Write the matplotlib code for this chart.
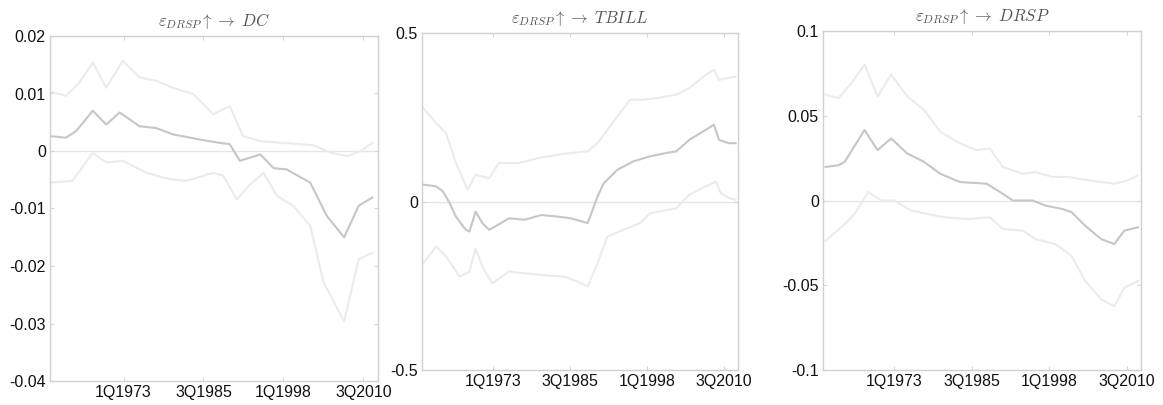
import matplotlib
matplotlib.use("Agg")
import matplotlib.pyplot as plt

plt.rcParams['mathtext.fontset'] = 'cm'

# ---- Panel 1: DC ----
dc_mid_t = [1961.4, 1964.0, 1965.6, 1968.2, 1970.3, 1972.4, 1975.5, 1978.1, 1980.7, 1984.9, 1988.1, 1989.6,
            1991.2, 1994.4, 1996.5, 1998.5, 2002.2, 2004.8, 2007.5, 2009.8, 2011.9]
dc_mid = [0.0026, 0.0023, 0.0035, 0.0070, 0.0046, 0.0067, 0.0043, 0.0040, 0.0029, 0.0020, 0.0014, 0.0012,
          -0.0017, -0.0006, -0.0030, -0.0032, -0.0055, -0.0113, -0.0150, -0.0095, -0.0081]
dc_up_t = [1961.4, 1964.0, 1966.1, 1968.2, 1970.3, 1972.9, 1975.5, 1978.1, 1980.7, 1983.9, 1987.0, 1989.6,
           1991.7, 1994.4, 1998.0, 2002.7, 2005.4, 2008.0, 2010.1, 2011.9]
dc_up = [0.0104, 0.0096, 0.0119, 0.0154, 0.0110, 0.0157, 0.0128, 0.0122, 0.0110, 0.0099, 0.0064, 0.0078,
         0.0026, 0.0017, 0.0014, 0.0010, -0.0003, -0.0009, 0.0000, 0.0014]
dc_lo_t = [1961.4, 1965.0, 1968.2, 1970.3, 1972.9, 1976.6, 1980.2, 1982.8, 1987.0, 1988.6, 1990.7, 1992.8,
           1994.9, 1997.0, 1999.6, 2002.2, 2004.3, 2007.5, 2009.8, 2011.9]
dc_lo = [-0.0055, -0.0052, -0.0003, -0.0020, -0.0017, -0.0038, -0.0049, -0.0052, -0.0038, -0.0043, -0.0084,
         -0.0058, -0.0038, -0.0078, -0.0096, -0.0130, -0.0229, -0.0296, -0.0188, -0.0177]

# ---- Panel 2: TBILL ----
tb_mid_t = [1961.7, 1963.8, 1964.9, 1966.0, 1967.0, 1968.6, 1969.2, 1970.2, 1971.3, 1972.4, 1973.4, 1975.6,
            1978.2, 1980.9, 1983.6, 1985.7, 1988.4, 1990.0, 1991.0, 1993.2, 1995.8, 1998.5, 2001.2, 2002.8,
            2004.9, 2007.6, 2008.9, 2009.7, 2011.3, 2012.4]
tb_mid = [0.050, 0.045, 0.030, -0.005, -0.045, -0.084, -0.089, -0.030, -0.064, -0.084, -0.074, -0.050,
          -0.054, -0.040, -0.045, -0.050, -0.064, 0.015, 0.054, 0.094, 0.119, 0.134, 0.144, 0.149,
          0.183, 0.213, 0.228, 0.183, 0.173, 0.173]
tb_up_t = [1961.7, 1963.8, 1965.4, 1967.0, 1968.9, 1970.2, 1972.4, 1974.0, 1977.2, 1980.4, 1983.6, 1985.7,
           1988.4, 1990.0, 1993.2, 1995.3, 1997.4, 1999.6, 2002.8, 2004.9, 2007.6, 2008.9, 2009.7, 2012.4]
tb_up = [0.277, 0.233, 0.203, 0.114, 0.035, 0.079, 0.069, 0.114, 0.114, 0.129, 0.139, 0.144,
         0.149, 0.173, 0.252, 0.302, 0.302, 0.307, 0.317, 0.337, 0.376, 0.391, 0.361, 0.371]
tb_lo_t = [1961.7, 1963.8, 1965.4, 1967.6, 1969.2, 1970.2, 1971.3, 1972.9, 1975.6, 1978.2, 1980.9, 1984.6,
           1986.8, 1988.4, 1990.0, 1991.6, 1994.2, 1996.9, 1998.5, 2002.8, 2004.9, 2007.6, 2009.2, 2010.0,
           2011.3, 2012.4]
tb_lo = [-0.183, -0.134, -0.163, -0.223, -0.208, -0.139, -0.193, -0.243, -0.208, -0.213, -0.218, -0.223,
         -0.238, -0.252, -0.183, -0.104, -0.084, -0.064, -0.035, -0.020, 0.020, 0.045, 0.059, 0.025,
         0.010, 0.005]

# ---- Panel 3: DRSP ----
dr_mid_t = [1961.9, 1964.0, 1965.0, 1968.2, 1970.3, 1972.5, 1975.1, 1977.8, 1980.4, 1983.6, 1987.9, 1990.5,
            1992.1, 1995.3, 1997.4, 2000.1, 2001.6, 2003.8, 2006.4, 2008.5, 2010.1, 2012.3]
dr_mid = [0.0198, 0.0208, 0.0228, 0.0416, 0.0297, 0.0366, 0.0277, 0.0228, 0.0158, 0.0109, 0.0099, 0.0040,
          0.0000, 0.0000, -0.0030, -0.0050, -0.0069, -0.0149, -0.0228, -0.0257, -0.0178, -0.0158]
dr_up_t = [1961.9, 1964.0, 1966.1, 1968.2, 1970.3, 1972.5, 1975.1, 1977.8, 1980.4, 1983.6, 1986.3, 1988.4,
           1990.5, 1993.7, 1995.8, 1998.5, 2001.1, 2004.3, 2008.5, 2010.7, 2012.3]
dr_up = [0.0624, 0.0604, 0.0693, 0.0802, 0.0614, 0.0743, 0.0614, 0.0535, 0.0406, 0.0337, 0.0297, 0.0307,
         0.0198, 0.0158, 0.0168, 0.0139, 0.0139, 0.0119, 0.0099, 0.0119, 0.0149]
dr_lo_t = [1961.9, 1965.0, 1966.6, 1968.8, 1970.9, 1973.0, 1975.7, 1978.3, 1981.0, 1984.7, 1988.4, 1990.5,
           1993.7, 1995.8, 1999.0, 2001.6, 2003.8, 2006.4, 2008.5, 2010.1, 2012.3]
dr_lo = [-0.0238, -0.0139, -0.0079, 0.0050, 0.0000, 0.0000, -0.0059, -0.0079, -0.0099, -0.0109, -0.0099,
         -0.0168, -0.0178, -0.0228, -0.0257, -0.0327, -0.0475, -0.0584, -0.0624, -0.0515, -0.0475]

tick_pos = [1973.0, 1985.5, 1998.0, 2010.5]
tick_labels = ['1Q1973', '3Q1985', '1Q1998', '3Q2010']

titles = [r'$\varepsilon_{DRSP}\uparrow\rightarrow\ DC$',
          r'$\varepsilon_{DRSP}\uparrow\rightarrow\ TBILL$',
          r'$\varepsilon_{DRSP}\uparrow\rightarrow\ DRSP$']
yticks = [[0.02, 0.01, 0, -0.01, -0.02, -0.03, -0.04], [0.5, 0, -0.5], [0.1, 0.05, 0, -0.05, -0.1]]
ytick_labels = [['0.02', '0.01', '0', '-0.01', '-0.02', '-0.03', '-0.04'], ['0.5', '0', '-0.5'],
                ['0.1', '0.05', '0', '-0.05', '-0.1']]
ylims = [(-0.04, 0.02), (-0.5, 0.5), (-0.1, 0.1)]

panels = [
    ((dc_mid_t, dc_mid), (dc_up_t, dc_up), (dc_lo_t, dc_lo)),
    ((tb_mid_t, tb_mid), (tb_up_t, tb_up), (tb_lo_t, tb_lo)),
    ((dr_mid_t, dr_mid), (dr_up_t, dr_up), (dr_lo_t, dr_lo)),
]

W, H = 1163, 405
boxes = [(50, 36, 378, 381), (422, 33, 738, 370), (823, 31, 1141, 370)]

fig = plt.figure(figsize=(W / 100, H / 100), dpi=100)
fig.patch.set_facecolor('white')

for i, (l, t, r, b) in enumerate(boxes):
    ax = fig.add_axes([l / W, (H - b) / H, (r - l) / W, (b - t) / H])
    (mt, mv), (ut, uv), (lt, lv) = panels[i]
    ax.axhline(0, color='#e6e6e6', lw=1.0, zorder=1)
    ax.plot(ut, uv, color='#ebebeb', lw=1.5, zorder=2)
    ax.plot(lt, lv, color='#ebebeb', lw=1.5, zorder=2)
    ax.plot(mt, mv, color='#c6c6c6', lw=1.5, zorder=3)
    ax.set_xlim(1961.5, 2012.8)
    ax.set_ylim(*ylims[i])
    ax.set_xticks(tick_pos)
    ax.set_xticklabels(tick_labels)
    ax.set_yticks(yticks[i])
    ax.set_yticklabels(ytick_labels[i])
    for s in ax.spines.values():
        s.set_color('#d0d0d0')
        s.set_linewidth(1.0)
    ax.tick_params(direction='in', length=3, width=0.8, color='#d6d6d6',
                   top=True, right=True, labelsize=11.5, labelcolor='#111111', pad=3)
    for lab in ax.get_xticklabels() + ax.get_yticklabels():
        lab.set_fontfamily('Liberation Sans')
    ax.set_title(titles[i], fontsize=12, color='#555555', pad=7)

fig.savefig('out.png', dpi=100, facecolor='white')
